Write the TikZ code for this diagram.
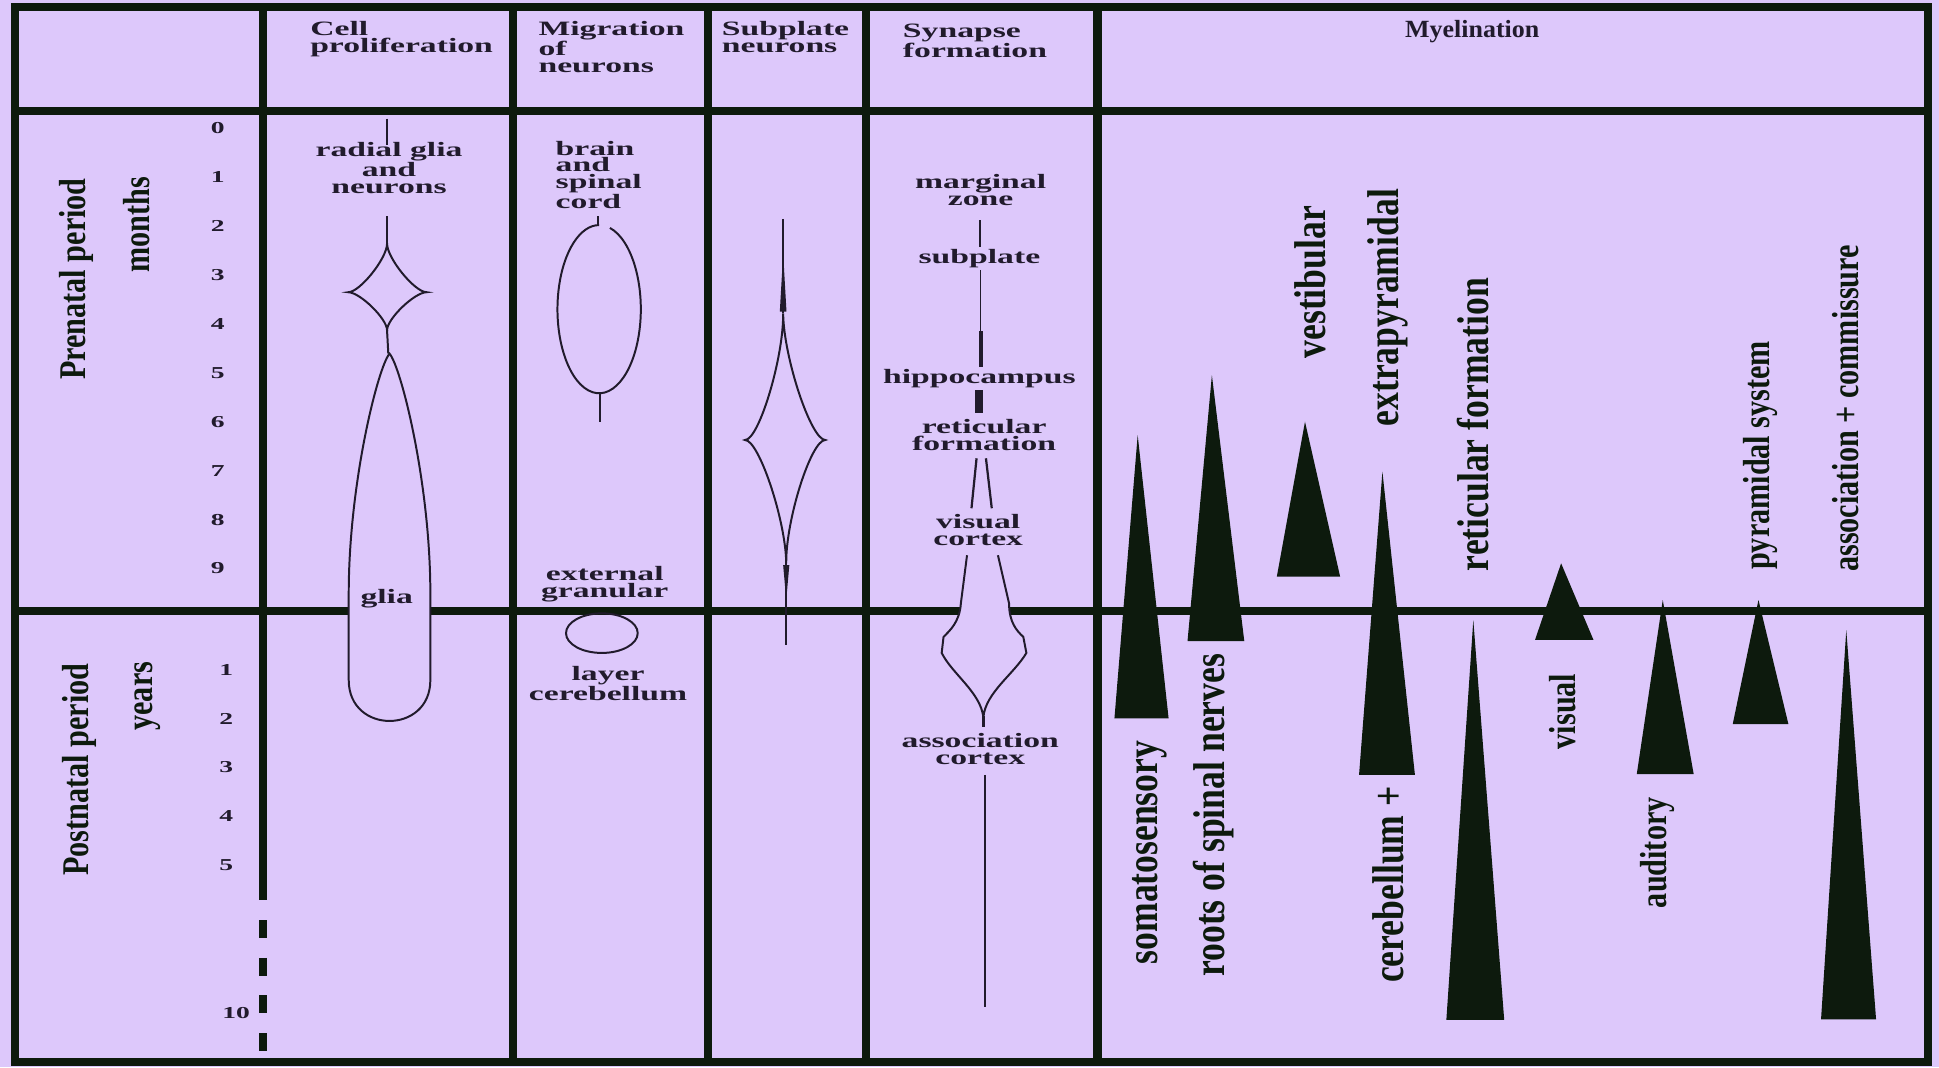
\documentclass[tikz,border=0pt]{standalone}
\usepackage{fontspec}
\setmainfont{Liberation Serif}
\newfontfamily\widefont[FakeStretch=1.65]{Liberation Serif}
\newfontfamily\midfont[FakeStretch=1.05]{Liberation Serif}
\newfontfamily\narrowfont[FakeStretch=0.8]{Liberation Serif}
\usetikzlibrary{calc}

\definecolor{lilac}{RGB}{221,200,251}
\definecolor{gridcol}{RGB}{13,26,13}
\definecolor{inkcol}{RGB}{33,27,44}

\tikzset{
  gridline/.style={line width=6.5pt, draw=gridcol},
  shapeline/.style={line width=1.6pt, draw=inkcol},
  collabel/.style={font=\widefont\bfseries\fontsize{16.5}{13.4}\selectfont,
    text=inkcol, inner sep=0pt, align=center},
  headlabel/.style={collabel, font=\widefont\bfseries\fontsize{16.5}{14}\selectfont,
    align=left, anchor=north west},
  monthnum/.style={font=\widefont\bfseries\fontsize{13.5}{13.5}\selectfont,
    text=inkcol, inner sep=0pt},
  sidelabel/.style={font=\narrowfont\bfseries\fontsize{30.5}{30}\selectfont,
    text=gridcol, inner sep=0pt, rotate=90},
  bigside/.style={sidelabel, font=\narrowfont\bfseries\fontsize{36}{36}\selectfont},
  tract/.style={fill=gridcol}
}

% four-cusp star through (#1T),(#1R),(#1B),(#1L) around (#1C); #2 = concavity
\newcommand{\cuspstar}[2]{%
  \draw[shapeline, fill=lilac] (#1T)
    .. controls ($(#1T)!#2!(#1C)$) and ($(#1R)!#2!(#1C)$) .. (#1R)
    .. controls ($(#1R)!#2!(#1C)$) and ($(#1B)!#2!(#1C)$) .. (#1B)
    .. controls ($(#1B)!#2!(#1C)$) and ($(#1L)!#2!(#1C)$) .. (#1L)
    .. controls ($(#1L)!#2!(#1C)$) and ($(#1T)!#2!(#1C)$) .. (#1T) -- cycle;}

\begin{document}
\begin{tikzpicture}[x=1pt, y=-1pt]
  \useasboundingbox (0,0) rectangle (1568,863);
  \fill[lilac] (0,0) rectangle (1568,863);

  % frame and table rules
  \draw[gridline] (12,6) rectangle (1559,859);
  \draw[gridline] (12,89.5) -- (1559,89.5);
  \draw[gridline] (12,494) -- (1559,494);
  \draw[gridline] (213,6) -- (213,728);
  \draw[gridline, dash pattern=on 14.5pt off 16pt] (213,744) -- (213,850);
  \foreach \cx in {414.5,572.5,700,887.5}
    \draw[gridline] (\cx,6) -- (\cx,859);

  % column headers
  \node[headlabel] (hdcell) at (250.7,17) {Cell\\proliferation};
  \node[headlabel] (hdmig) at (435.3,17) {Migration\\of\\neurons};
  \node[headlabel] (hdsub) at (583.6,17) {Subplate\\neurons};
  \node[headlabel] (hdsyn) at (730,19) {Synapse\\formation};
  \node[collabel, font=\midfont\bfseries\fontsize{20}{16}\selectfont, anchor=north]
    (hdmye) at (1190.5,16.5) {Myelination};

  % time axis
  \node[sidelabel, anchor=base east] (prenatal) at (69,144) {Prenatal period};
  \node[sidelabel, anchor=base east] (months) at (120.5,143) {months};
  \node[sidelabel, anchor=base east] (postnatal) at (71.7,536.4) {Postnatal period};
  \node[sidelabel, anchor=base east] (years) at (123,535) {years};
  \foreach \m in {0,...,9}
    \node[monthnum] (mo\m) at (176,{103.8+39.55*\m}) {\m};
  \foreach \n in {1,...,5}
    \node[monthnum] (yr\n) at (183,{541.5+39.5*(\n-1)}) {\n};
  \node[monthnum] (yr10) at (191,819.4) {10};

  % cell proliferation
  \draw[shapeline, line width=2pt] (313,96) -- (313,117);
  \draw[shapeline] (313,175) -- (313,197);
  \coordinate (cpT) at (313,197);
  \coordinate (cpR) at (345,236.3);
  \coordinate (cpB) at (313,267);
  \coordinate (cpL) at (281.6,236.3);
  \coordinate (cpC) at (313,236.3);
  \cuspstar{cp}{0.3}
  \draw[shapeline] (313,267) -- (314,286);
  \draw[shapeline, fill=lilac] (315,286) .. controls (306,296) and (282,390) .. (282,480)
    -- (282,550) .. controls (282,594) and (348,594) .. (348,550)
    -- (348,480) .. controls (348,390) and (324,296) .. (315,286) -- cycle;
  \node[collabel, anchor=north] (radial) at (314.6,115) {radial glia\\and\\neurons};
  \node[collabel, anchor=north] (glia) at (312.7,476) {glia};

  % migration of neurons
  \draw[shapeline] (483.7,175) -- (483.7,183);
  \draw[shapeline] (484.5,250) ++(285:33.7 and 68)
    arc[start angle=285, end angle=630, x radius=33.7, y radius=68];
  \draw[shapeline] (484.8,318) -- (484.8,341);
  \draw[shapeline] (486.7,512) ellipse [x radius=29, y radius=16];
  \node[collabel, align=left, anchor=north west] (brain) at (449.2,114) {brain\\and\\spinal\\cord};
  \node[collabel, anchor=north] (extgran) at (489,457.8) {external\\granular};
  \node[collabel, anchor=north] (cblayer) at (491.7,538.8) {layer\\cerebellum};

  % subplate neurons
  \draw[shapeline, line width=1.2pt] (633.3,177) -- (633.3,253.4);
  \fill[inkcol] (633.3,205) -- (636,252) -- (630.6,252) -- cycle;
  \coordinate (spT) at (633.3,253.4);
  \coordinate (spR) at (667.4,355.8);
  \coordinate (spB) at (635.8,455.5);
  \coordinate (spL) at (602.5,355.8);
  \coordinate (spC) at (634.5,355.8);
  \cuspstar{sp}{0.35}
  \draw[shapeline] (635.8,455.5) -- (635.8,521.6);
  \fill[inkcol] (633.3,457) -- (638.3,457) -- (635.8,485) -- cycle;

  % synapse formation
  \node[collabel, anchor=north] (marg) at (793,141) {marginal\\zone};
  \node[collabel, anchor=north] (subp) at (792,201.8) {subplate};
  \node[collabel, anchor=north] (hippo) at (792,298.2) {hippocampus};
  \node[collabel, anchor=north] (retic) at (795.8,339) {reticular\\formation};
  \node[collabel, anchor=north] (viscx) at (791,416) {visual\\cortex};
  \node[collabel, anchor=north] (asscx) at (792.7,593) {association\\cortex};
  \draw[shapeline] (792.7,178) -- (792.7,199.5);
  \draw[shapeline, line width=1.2pt] (793,218.3) -- (793,270);
  \draw[shapeline, line width=3.2pt] (793,268) -- (793,296.5);
  \draw[shapeline, line width=6pt] (791.7,315.4) -- (791.7,334.2);
  \draw[shapeline, line width=1.8pt] (789.7,370.6) -- (785.6,411);
  \draw[shapeline, line width=1.8pt] (797.3,370.6) -- (802,411);
  \fill[lilac] (782,449) -- (777,488) .. controls (776,503) and (768,510) .. (763,515)
    -- (761.5,528) .. controls (770,545) and (793,560) .. (795.2,580)
    .. controls (797,560) and (820,545) .. (830,528)
    -- (827.5,515) .. controls (822,510) and (816,503) .. (816,488) -- (807,449) -- cycle;
  \draw[shapeline] (782,449) -- (777,488) .. controls (776,503) and (768,510) .. (763,515)
    -- (761.5,528) .. controls (770,545) and (793,560) .. (795.2,580)
    .. controls (797,560) and (820,545) .. (830,528)
    -- (827.5,515) .. controls (822,510) and (816,503) .. (816,488) -- (807,449);
  \draw[shapeline, line width=2.5pt] (795.2,579) -- (795.2,588);
  \draw[shapeline] (796.8,626.7) -- (796.8,814);

  % myelination: onset (apex) to completion (base)
  \foreach \ax/\ay/\bl/\br/\by in {
      920/351.8/901.2/945/580.9, 980/303.3/960.3/1006.2/518.4,
      1055.3/341/1032.5/1083.7/466.3, 1117.9/381.4/1099/1144.2/626.7,
      1191.4/501.4/1169.6/1216.4/824.8, 1262.4/455.5/1241.3/1288.6/517.5,
      1344.6/485.2/1323.6/1369.6/625.9, 1422/485.2/1401.2/1446.2/585.5,
      1493/509.5/1472.6/1517.1/824.3}
    \fill[tract] (\ax,\ay) -- (\br,\by) -- (\bl,\by) -- cycle;
  \foreach \bx/\sy/\nm/\txt in {
      936/780/msoma/somatosensory, 990/790/mroots/roots of spinal nerves,
      1072/290/mvest/vestibular, 1131/345/mextra/extrapyramidal,
      1135/795/mcereb/cerebellum +, 1204/462/mretic/reticular formation}
    \node[bigside, anchor=base west] (\nm) at (\bx,\sy) {\txt};
  \foreach \bx/\sy/\nm/\txt in {
      1274/606/mvis/visual, 1347.5/734.5/maud/auditory,
      1430.8/461/mpyr/pyramidal system, 1503/462.5/massoc/association + commissure}
    \node[sidelabel, anchor=base west] (\nm) at (\bx,\sy) {\txt};
\end{tikzpicture}
\end{document}
